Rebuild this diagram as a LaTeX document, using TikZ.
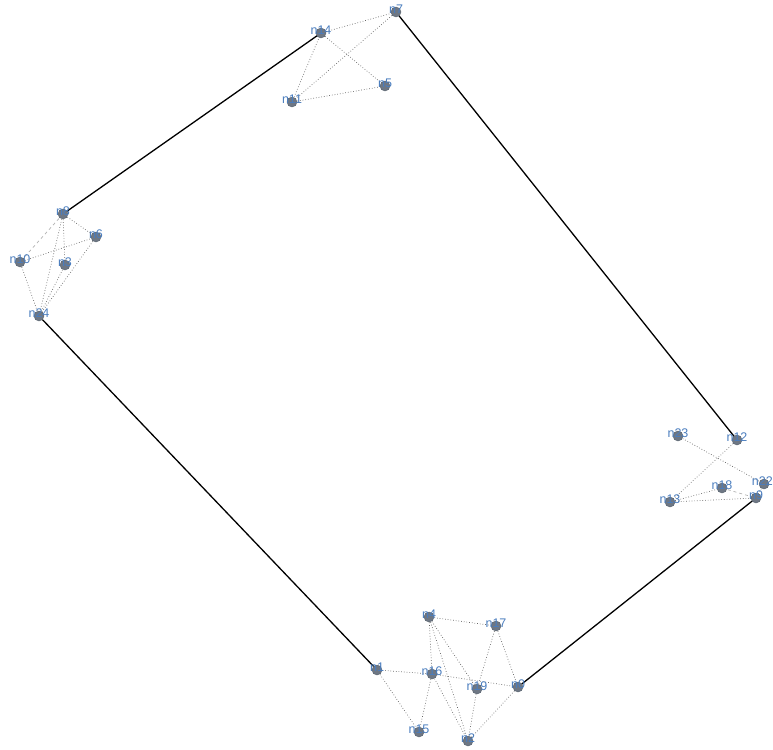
\documentclass[tikz,border=0pt]{standalone}
\usepackage{fontspec}
\setmainfont{Liberation Sans}
\definecolor{vfill}{HTML}{6E7784}
\definecolor{vline}{HTML}{55606C}
\definecolor{ltext}{HTML}{4A7DBE}
\begin{document}
\begin{tikzpicture}[x=1pt,y=-1pt,
  vtx/.style={circle,fill=vfill,draw=vline,line width=0.4pt,inner sep=0pt,minimum size=10pt},
  lbl/.style={text=ltext,font=\fontsize{12.5}{12.5}\selectfont,inner sep=0pt},
  strong/.style={draw=black,line width=1.3pt},
  weak/.style={draw=gray!80!black,line width=0.7pt,dotted},
  mid/.style={draw=gray!60,line width=0.7pt,dashed}]
\useasboundingbox (0,0) rectangle (773,749);
\foreach \n/\x/\y in {n7/396/12,n14/321/33,n11/292/102,n5/385/86,
  n8/63/214,n6/96/237,n10/20/262,n3/65/265,n24/39/316,
  n23/678/436,n12/737/440,n22/764/484,n18/722/488,n13/670/502,n9/756/498,
  n4/429/617,n17/496/626,n1/377/670,n16/432/674,n19/477/689,n0/518/687,n15/419/732,n2/468/741}
  {\coordinate (\n) at (\x,\y);}
% strong edges
\draw[strong] (n14) -- (n8);
\draw[strong] (n7) -- (n12);
\draw[strong] (n24) -- (n1);
\draw[strong] (n0) -- (n9);
% top cluster
\draw[weak] (n14) -- (n7);
\draw[weak] (n7) -- (n11);
\draw[weak] (n14) -- (n5);
\draw[weak] (n11) -- (n5);
\draw[weak] (n11) -- (n14);
% left cluster
\draw[mid] (n8) -- (n10);
\draw[weak] (n8) -- (n6);
\draw[weak] (n8) -- (n3);
\draw[weak] (n8) -- (n24);
\draw[weak] (n10) -- (n24);
\draw[weak] (n10) -- (n6);
\draw[weak] (n6) -- (n24);
\draw[weak] (n3) -- (n24);
% right cluster
\draw[weak] (n23) -- (n22);
\draw[weak] (n12) -- (n13);
\draw[weak] (n13) -- (n9);
\draw[weak] (n13) -- (n18);
\draw[weak] (n22) -- (n9);
\draw[mid] (n18) -- (n9);
% bottom cluster
\draw[weak] (n1) -- (n16);
\draw[weak] (n1) -- (n15);
\draw[weak] (n4) -- (n17);
\draw[weak] (n4) -- (n16);
\draw[weak] (n4) -- (n19);
\draw[weak] (n4) -- (n2);
\draw[weak] (n16) -- (n2);
\draw[weak] (n16) -- (n15);
\draw[weak] (n16) -- (n0);
\draw[weak] (n17) -- (n19);
\draw[weak] (n17) -- (n0);
\draw[weak] (n19) -- (n2);
\draw[weak] (n0) -- (n2);
% vertices
\foreach \n in {n7,n14,n11,n5,n8,n6,n10,n3,n24,n23,n12,n22,n18,n13,n9,n4,n17,n1,n16,n19,n0,n15,n2}
  {\node[vtx] (v\n) at (\n) {};}
% labels
\foreach \n in {n7,n14,n11,n5,n8,n6,n10,n3,n24,n23,n12,n18,n13,n9,n4,n17,n1,n16,n19,n0,n15,n2}
  {\node[lbl] (l\n) at ([yshift=3pt]\n) {\n};}
\node[lbl,anchor=east] (ln22) at ([yshift=3pt]773,484) {n22};
\end{tikzpicture}
\end{document}
